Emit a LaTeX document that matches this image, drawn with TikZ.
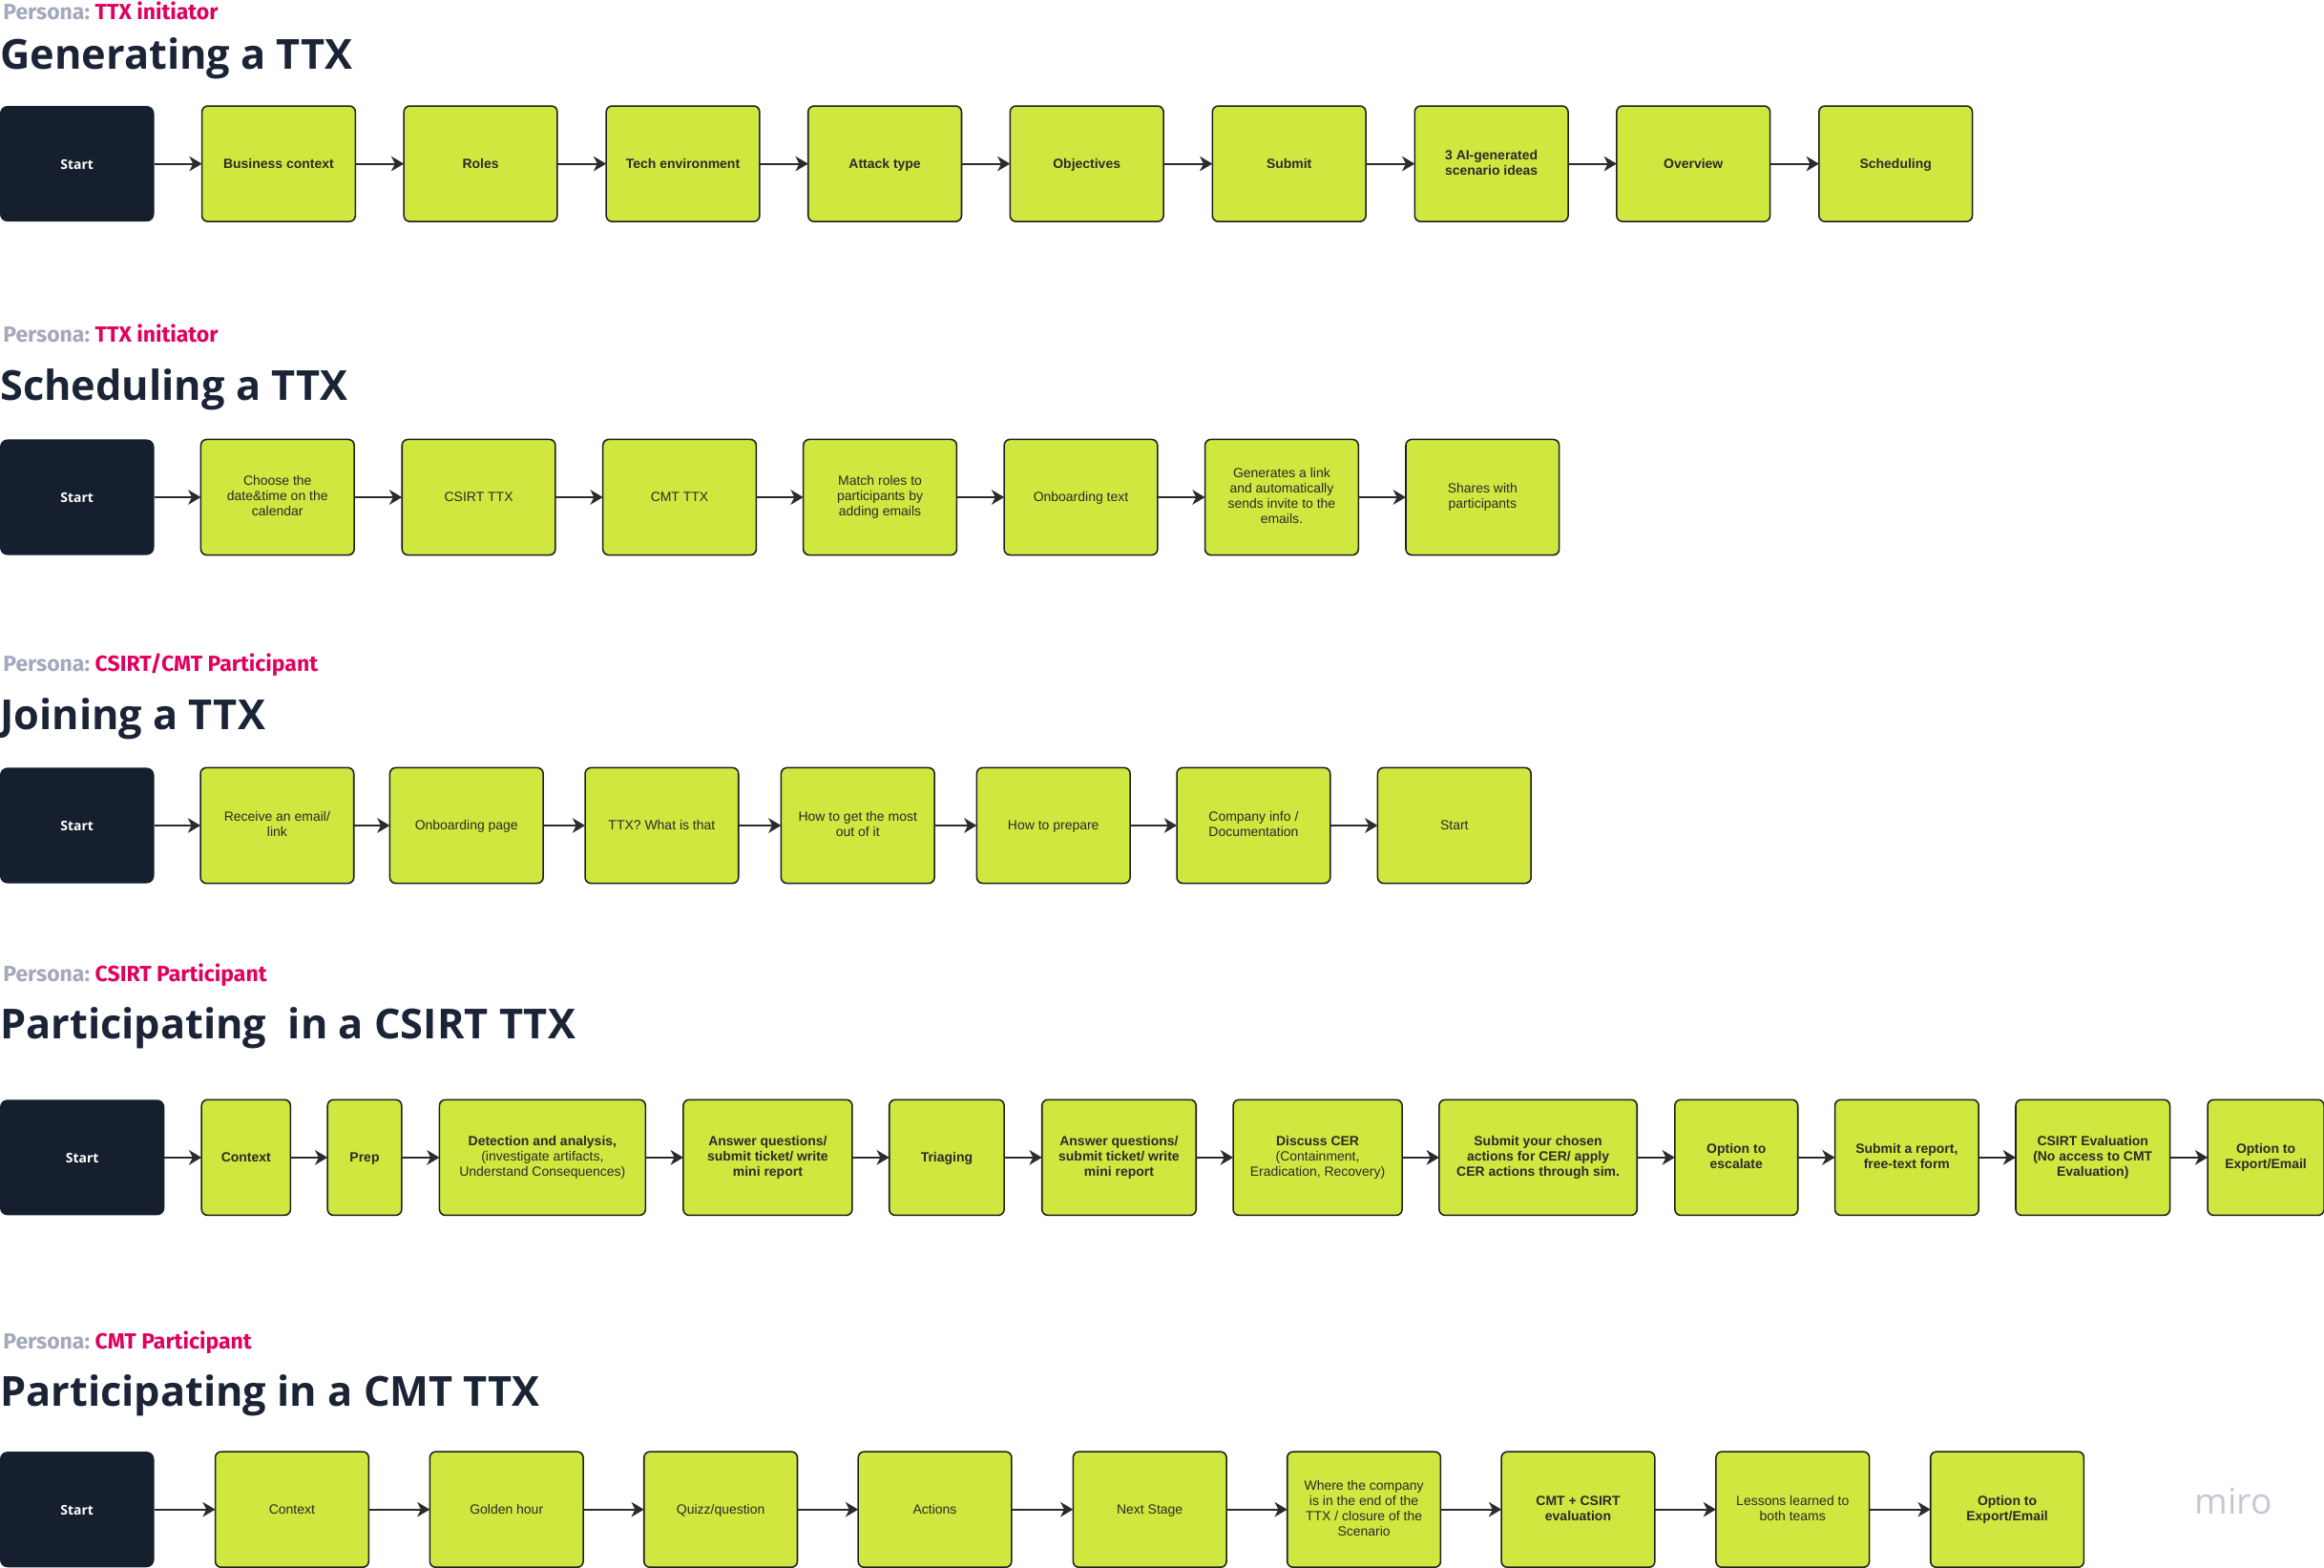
\documentclass[tikz,border=0pt]{standalone}
\usepackage{fontspec}
\setmainfont{Liberation Sans}
\newfontfamily\titlefont{Open Sans}
\newfontfamily\personafont{Fira Sans}
\usetikzlibrary{arrows.meta, positioning}
\definecolor{limefill}{HTML}{CFE73F}
\definecolor{darkbox}{HTML}{161F2E}
\definecolor{titleink}{HTML}{1B2437}
\definecolor{personapink}{HTML}{E0005F}
\definecolor{personagray}{HTML}{A4A8BC}
\definecolor{miroink}{HTML}{C5C7D6}
\definecolor{stepink}{HTML}{2B2B2B}
\newcommand{\stepstrut}{\rule[-1.95pt]{0pt}{10.3pt}}
\newcommand{\startstrut}{\rule[-1.3pt]{0pt}{10.3pt}}
\tikzset{
  stepbox/.style={draw=black!88, fill=limefill, line width=1pt, rounded corners=4pt, outer sep=0pt, inner sep=1pt,
    minimum height=78pt, minimum width=#1, align=center, text=stepink, font=\fontsize{9}{10.3}\selectfont,
    execute at begin node=\stepstrut, execute at end node=\stepstrut},
  stepbox/.default=103.5pt,
  boldbox/.style={stepbox=#1, font=\fontsize{9}{10.3}\selectfont\bfseries},
  boldbox/.default=103.5pt,
  startbox/.style={fill=darkbox, rounded corners=5pt, outer sep=0pt, minimum height=78pt, minimum width=#1,
    text=white, font=\titlefont\fontsize{9}{10.3}\selectfont\bfseries, execute at begin node=\startstrut},
  startbox/.default=104pt,
  flow/.style={-{Stealth[length=8.5pt,width=10pt,inset=2.5pt]}, line width=1.3pt, draw=stepink},
  personaname/.style={anchor=base west, inner sep=0pt, text=personagray, font=\personafont\fontsize{14.8}{16}\selectfont\bfseries},
  personarole/.style={anchor=base west, inner sep=0pt, text=personapink, font=\personafont\fontsize{14.8}{16}\selectfont\bfseries},
  flowtitle/.style={anchor=base west, inner sep=0pt, text=titleink, font=\titlefont\fontsize{27.9}{32}\selectfont\bfseries},
}
\begin{document}
\begin{tikzpicture}[x=1pt, y=-1pt, line join=round]
    \useasboundingbox (0,0) rectangle (1568,1057.4);

    % Generating
    \node[personaname] (pa1) at (2,13) {Persona:};
    \node[personarole] (pr1) at (64,13) {TTX initiator};
    \node[flowtitle] (ti1) at (0,47) {Generating a TTX};
    \node[startbox] (a0) at (52,110.5) {Start};
    \node[boldbox] (a1) at (188,110.5) {Business context};
    \node[boldbox] (a2) at (324.25,110.5) {Roles};
    \node[boldbox] (a3) at (460.75,110.5) {Tech environment};
    \node[boldbox] (a4) at (597,110.5) {Attack type};
    \node[boldbox] (a5) at (733.25,110.5) {Objectives};
    \node[boldbox] (a6) at (869.75,110.5) {Submit};
    \node[boldbox] (a7) at (1006.25,110.5) {3 AI-generated\\scenario ideas};
    \node[boldbox] (a8) at (1142.5,110.5) {Overview};
    \node[boldbox] (a9) at (1279,110.5) {Scheduling};
    \draw[flow] (a0) -- (a1);
    \draw[flow] (a1) -- (a2);
    \draw[flow] (a2) -- (a3);
    \draw[flow] (a3) -- (a4);
    \draw[flow] (a4) -- (a5);
    \draw[flow] (a5) -- (a6);
    \draw[flow] (a6) -- (a7);
    \draw[flow] (a7) -- (a8);
    \draw[flow] (a8) -- (a9);

    % Scheduling
    \node[personaname] (pa2) at (2,231) {Persona:};
    \node[personarole] (pr2) at (64,231) {TTX initiator};
    \node[flowtitle] (ti2) at (0,270) {Scheduling a TTX};
    \node[startbox] (b0) at (52,335.5) {Start};
    \node[stepbox] (b1) at (187.25,335.5) {Choose the\\date\&time on the\\calendar};
    \node[stepbox] (b2) at (323,335.5) {CSIRT TTX};
    \node[stepbox] (b3) at (458.5,335.5) {CMT TTX};
    \node[stepbox] (b4) at (593.75,335.5) {Match roles to\\participants by\\adding emails};
    \node[stepbox] (b5) at (729.25,335.5) {Onboarding text};
    \node[stepbox] (b6) at (864.75,335.5) {Generates a link\\and automatically\\sends invite to the\\emails.};
    \node[stepbox] (b7) at (1000.25,335.5) {Shares with\\participants};
    \draw[flow] (b0) -- (b1);
    \draw[flow] (b1) -- (b2);
    \draw[flow] (b2) -- (b3);
    \draw[flow] (b3) -- (b4);
    \draw[flow] (b4) -- (b5);
    \draw[flow] (b5) -- (b6);
    \draw[flow] (b6) -- (b7);

    % Joining
    \node[personaname] (pa3) at (2,453) {Persona:};
    \node[personarole] (pr3) at (64,453) {CSIRT/CMT Participant};
    \node[flowtitle] (ti3) at (0,492) {Joining a TTX};
    \node[startbox] (c0) at (52,557) {Start};
    \node[stepbox] (c1) at (187,557) {Receive an email/\\link};
    \node[stepbox] (c2) at (314.75,557) {Onboarding page};
    \node[stepbox] (c3) at (446.5,557) {TTX? What is that};
    \node[stepbox] (c4) at (578.75,557) {How to get the most\\out of it};
    \node[stepbox] (c5) at (710.75,557) {How to prepare};
    \node[stepbox] (c6) at (845.75,557) {Company info /\\Documentation};
    \node[stepbox] (c7) at (981.25,557) {Start};
    \draw[flow] (c0) -- (c1);
    \draw[flow] (c1) -- (c2);
    \draw[flow] (c2) -- (c3);
    \draw[flow] (c3) -- (c4);
    \draw[flow] (c4) -- (c5);
    \draw[flow] (c5) -- (c6);
    \draw[flow] (c6) -- (c7);

    % CSIRT
    \node[personaname] (pa4) at (2,662) {Persona:};
    \node[personarole] (pr4) at (64,662) {CSIRT Participant};
    \node[flowtitle] (ti4) at (0,701) {Participating\ \ in a CSIRT TTX};
    \node[startbox=111pt] (d0) at (55.5,781) {Start};
    \node[boldbox=60pt] (d1) at (166,781) {Context};
    \node[boldbox=50pt] (d2) at (246,781) {Prep};
    \node[boldbox=139pt] (d3) at (366,781) {Detection and analysis,\\{\mdseries(investigate artifacts,}\\{\mdseries Understand Consequences)}};
    \node[boldbox=114pt] (d4) at (518,781) {Answer questions/\\submit ticket/ write\\mini report};
    \node[boldbox=77.5pt] (d5) at (638.75,781) {Triaging};
    \node[boldbox=104pt] (d6) at (755,781) {Answer questions/\\submit ticket/ write\\mini report};
    \node[boldbox=114pt] (d7) at (889,781) {Discuss CER\\{\mdseries(Containment,}\\{\mdseries Eradication, Recovery)}};
    \node[boldbox=133.5pt] (d8) at (1037.75,781) {Submit your chosen\\actions for CER/ apply\\CER actions through sim.};
    \node[boldbox=83pt] (d9) at (1171.5,781) {Option to\\escalate};
    \node[boldbox=97pt] (d10) at (1286.5,781) {Submit a report,\\free-text form};
    \node[boldbox=104pt] (d11) at (1412,781) {CSIRT Evaluation\\(No access to CMT\\Evaluation)};
    \node[boldbox=78.5pt] (d12) at (1528.75,781) {Option to\\Export/Email};
    \draw[flow] (d0) -- (d1);
    \draw[flow] (d1) -- (d2);
    \draw[flow] (d2) -- (d3);
    \draw[flow] (d3) -- (d4);
    \draw[flow] (d4) -- (d5);
    \draw[flow] (d5) -- (d6);
    \draw[flow] (d6) -- (d7);
    \draw[flow] (d7) -- (d8);
    \draw[flow] (d8) -- (d9);
    \draw[flow] (d9) -- (d10);
    \draw[flow] (d10) -- (d11);
    \draw[flow] (d11) -- (d12);

    % CMT
    \node[personaname] (pa5) at (2,910) {Persona:};
    \node[personarole] (pr5) at (64,910) {CMT Participant};
    \node[flowtitle] (ti5) at (0,949) {Participating in a CMT TTX};
    \node[startbox] (e0) at (52,1018.5) {Start};
    \node[stepbox] (e1) at (197,1018.5) {Context};
    \node[stepbox] (e2) at (341.75,1018.5) {Golden hour};
    \node[stepbox] (e3) at (486.25,1018.5) {Quizz/question};
    \node[stepbox] (e4) at (630.75,1018.5) {Actions};
    \node[stepbox] (e5) at (775.75,1018.5) {Next Stage};
    \node[stepbox] (e6) at (920.25,1018.5) {Where the company\\is in the end of the\\TTX / closure of the\\Scenario};
    \node[boldbox] (e7) at (1064.75,1018.5) {CMT + CSIRT\\evaluation};
    \node[stepbox] (e8) at (1209.5,1018.5) {Lessons learned to\\both teams};
    \node[boldbox] (e9) at (1354.25,1018.5) {Option to\\Export/Email};
    \draw[flow] (e0) -- (e1);
    \draw[flow] (e1) -- (e2);
    \draw[flow] (e2) -- (e3);
    \draw[flow] (e3) -- (e4);
    \draw[flow] (e4) -- (e5);
    \draw[flow] (e5) -- (e6);
    \draw[flow] (e6) -- (e7);
    \draw[flow] (e7) -- (e8);
    \draw[flow] (e8) -- (e9);

    \node[text=miroink, font=\titlefont\fontsize{24}{26}\selectfont] (miro) at (1507,1013) {miro};
\end{tikzpicture}
\end{document}
